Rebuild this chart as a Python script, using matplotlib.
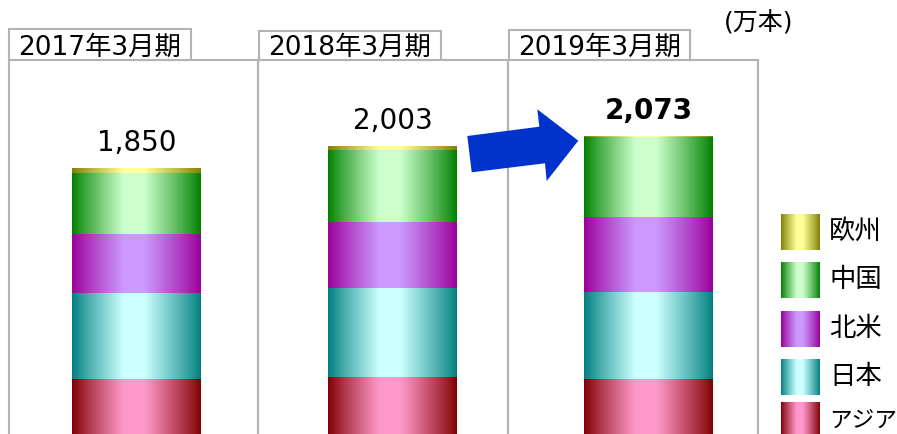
import numpy as np
import matplotlib
matplotlib.use("Agg")
import matplotlib.pyplot as plt
from matplotlib.patches import Rectangle, Polygon
from matplotlib.colors import to_rgb

plt.rcParams['font.family'] = ['DejaVu Sans', 'Noto Sans CJK JP']

# ---------------- data ----------------
periods = ['2017年3月期', '2018年3月期', '2019年3月期']
series_names = ['アジア', '日本', '北米', '中国', '欧州']   # bottom -> top
asia = [383, 396, 382]
japan = [598, 621, 605]
north_america = [413, 457, 522]
china = [421, 501, 557]
europe = [35, 28, 7]
totals = [1850, 2003, 2073]
unit_label = '(万本)'

series_values = [asia, japan, north_america, china, europe]
dark_colors = ['#800000', '#007f7f', '#990099', '#008000', '#7f7f00']
light_colors = ['#ff99cc', '#ccffff', '#cc99ff', '#ccffcc', '#ffff99']

W, H = 897, 434
fig = plt.figure(figsize=(W / 100, H / 100), dpi=100)

# main axes for bars
ax = fig.add_axes([8.5 / W, 0, 768 / W, 1])
ax.set_axis_off()
YMAX = 3020


def gradient(dark, light, n=256):
    t = np.linspace(0, 1, n)
    m = np.clip((0.48 - np.abs(t - 0.48)) / 0.40, 0, 1)
    m = np.where(t > 0.48, np.clip((1 - t) / 0.44, 0, 1), m) ** 0.9
    d = np.array(to_rgb(dark))
    l = np.array(to_rgb(light))
    img = d[None, :] * (1 - m[:, None]) + l[None, :] * m[:, None]
    return img[None, :, :]


x = np.arange(len(periods))
bottom = np.zeros(len(periods))
bw = 129 / 256
for vals, dc, lc in zip(series_values, dark_colors, light_colors):
    bars = ax.bar(x, vals, bw, bottom=bottom, color='none', edgecolor='none')
    g = gradient(dc, lc)
    for p in bars.patches:
        bx, by = p.get_x(), p.get_y()
        w, h = p.get_width(), p.get_height()
        im = ax.imshow(g, extent=[bx, bx + w, by, by + h], aspect='auto',
                       interpolation='bilinear', zorder=2)
        im.set_clip_path(p)
    bottom = bottom + np.array(vals)

for i, (xi, tot) in enumerate(zip(x, totals)):
    ax.annotate(f'{tot:,}', (xi, tot), xytext=(0, 12.5), textcoords='offset points',
                ha='center', va='baseline', fontsize=20,
                fontweight='bold' if i == len(totals) - 1 else 'normal')

ax.set_xlim(-0.5, 2.5)
ax.set_ylim(0, YMAX)

# overlay axes in pixel coordinates for frames, arrow, legend
ov = fig.add_axes([0, 0, 1, 1])
ov.set_xlim(0, W)
ov.set_ylim(H, 0)
ov.set_axis_off()
ov.patch.set_alpha(0)
ov.set_zorder(3)

lc_gray = '#b3b3b3'
lw = 1.5
panel_x = [9, 258, 508, 758]
label_boxes = [(9, 29, 191), (259, 31, 441), (509, 30, 690)]
for i in range(3):
    ov.add_patch(Rectangle((panel_x[i], 60), panel_x[i + 1] - panel_x[i], 400,
                           fill=False, edgecolor=lc_gray, lw=lw))
for (x0, y0, x1), name in zip(label_boxes, periods):
    ov.add_patch(Rectangle((x0, y0), x1 - x0, 60 - y0, facecolor='white',
                           edgecolor=lc_gray, lw=lw))
    ov.text((x0 + x1) / 2, 55, name, ha='center', va='baseline', fontsize=19)

ov.text(759, 23, unit_label, ha='center', va='center', fontsize=18)

arrow_pts = [(467.3, 136), (471.7, 172.3), (545, 163.3), (546.7, 181),
             (578.3, 140.7), (537.3, 109.3), (539.3, 126.7)]
ov.add_patch(Polygon(arrow_pts, closed=True, facecolor='#0033cc', edgecolor='none', zorder=5))

# legend (top -> bottom)
leg_tops = [214, 262, 311, 359, 402]
fig.canvas.draw()
renderer = fig.canvas.get_renderer()
for k, top in enumerate(leg_tops):
    si = len(series_names) - 1 - k
    g = gradient(dark_colors[si], light_colors[si])
    ov.imshow(g, extent=[781, 820, top + 36, top], aspect='auto', interpolation='bilinear')
    t = ov.text(829, top + 18, series_names[si], ha='left', va='center', fontsize=19)
    wpx = t.get_window_extent(renderer).width
    avail = 68
    if wpx > avail:
        t.set_fontsize(19 * avail / wpx)

ov.set_xlim(0, W)
ov.set_ylim(H, 0)

fig.savefig('out.png', dpi=100)
